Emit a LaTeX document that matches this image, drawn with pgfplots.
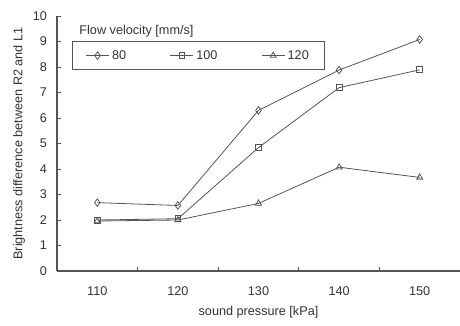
\documentclass[border=0pt]{standalone}
\usepackage{pgfplots}
\pgfplotsset{compat=1.18}
\usepackage{fontspec}
\setmainfont{Liberation Sans}
\definecolor{ln}{HTML}{555555}
\begin{document}
\begin{tikzpicture}[x=1pt,y=1pt]
\path[use as bounding box] (-42.75pt,-40.5pt) rectangle (302.25pt,203.25pt);
\begin{axis}[
  scale only axis, width=302.25pt, height=191.25pt,
  at={(0,0)}, anchor=south west,
  xmin=105, xmax=155, ymin=0, ymax=10,
  axis lines*=left,
  axis line style={ln, line width=0.8pt},
  xtick={110,120,130,140,150},
  minor xtick={115,125,135,145},
  major x tick style={draw=none},
  minor x tick style={ln, line width=0.6pt},
  minor tick length=3pt,
  ytick={0,1,...,10},
  y tick style={ln, line width=0.6pt},
  major tick length=3pt,
  tick align=inside,
  /pgf/number format/assume math mode=true,
  ticklabel style={font=\fontsize{9.5}{11}\selectfont, text=black!80},
  xticklabel style={yshift=-8pt},
  yticklabel style={xshift=-4pt},
  xlabel={sound pressure [kPa]},
  ylabel={Brightness difference between R2 and L1},
  xlabel style={font=\fontsize{9.5}{11}\selectfont, text=black!80, yshift=-1pt},
  ylabel style={font=\fontsize{9.5}{11}\selectfont, text=black!80, yshift=-1pt},
  legend columns=3,
  legend style={at={(0.037,0.902)}, anchor=north west, draw=ln, line width=0.8pt,
    font=\fontsize{9.5}{11}\selectfont, text=black!80, inner xsep=10pt, inner ysep=4.5pt,
    /tikz/every even column/.append style={column sep=31pt}},
  legend image post style={line width=0.6pt},
  every axis plot/.append style={ln, line width=0.6pt, mark options={solid, fill=white, line width=0.6pt}},
]
\addplot[mark=diamond, mark size=2.8pt] coordinates {(110,2.68) (120,2.57) (130,6.3) (140,7.88) (150,9.08)};
\addlegendentry{80}
\addplot[mark=square, mark size=2.2pt] coordinates {(110,2.0) (120,2.05) (130,4.84) (140,7.19) (150,7.89)};
\addlegendentry{100}
\addplot[mark=triangle, mark size=2.6pt] coordinates {(110,1.96) (120,2.0) (130,2.65) (140,4.07) (150,3.67)};
\addlegendentry{120}
\node[anchor=west, font=\fontsize{9.5}{11}\selectfont, text=black!80, inner sep=0pt] at (rel axis cs:0.055,0.94) {Flow velocity [mm/s]};
\end{axis}
\end{tikzpicture}
\end{document}
